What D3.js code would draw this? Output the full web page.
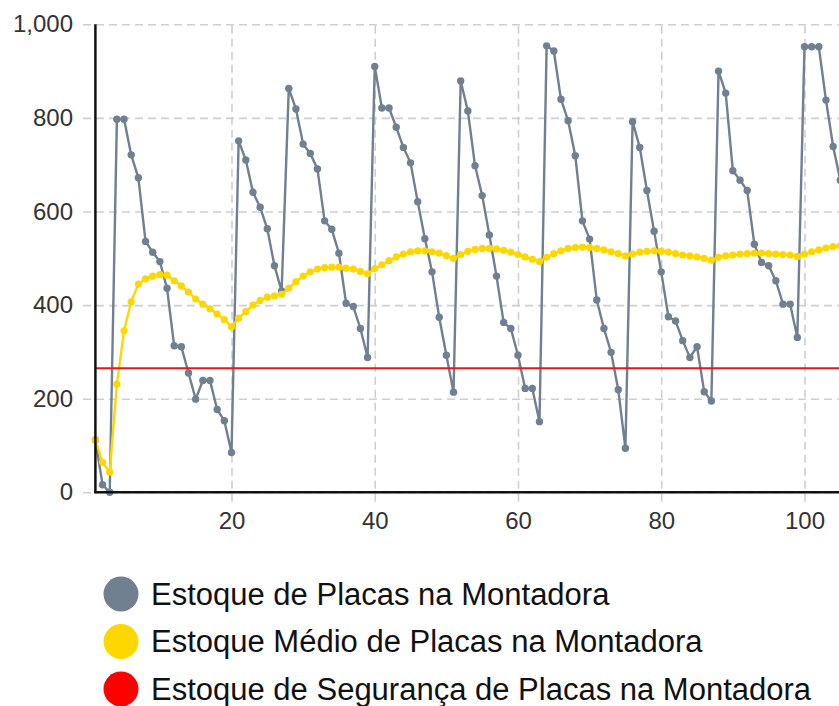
<!DOCTYPE html>
<html>
<head>
<meta charset="utf-8">
<script src="https://cdn.jsdelivr.net/npm/d3@7"></script>
<style>
  html, body { margin: 0; padding: 0; background: #fff; overflow: hidden; }
  svg { display: block; font-family: "Liberation Sans", Arial, sans-serif; }
</style>
</head>
<body>
<svg id="chart" width="839" height="706"></svg>
<script>
// ---- data ----
const periods = d3.range(1, 106);
const estoque = [
  112, 16, 0, 797, 797, 721, 672, 536, 513, 493, 436, 313, 311, 255, 199, 239, 239, 177, 153, 85,
  751, 710, 641, 609, 563, 484, 430, 863, 819, 744, 724, 691, 580, 562, 511, 404, 397, 350, 288, 910,
  821, 821, 780, 737, 704, 621, 542, 471, 374, 293, 214, 879, 815, 698, 634, 550, 462, 363, 350, 293,
  222, 222, 151, 954, 943, 840, 794, 719, 580, 541, 411, 350, 299, 219, 94, 792, 737, 645, 558, 471,
  375, 366, 324, 288, 311, 215, 195, 900, 853, 687, 667, 645, 530, 491, 484, 452, 402, 402, 331, 952,
  952, 952, 838, 739, 667
];
const estoqueMedio = [
  112, 64, 43, 231, 345, 407, 445, 456, 462, 465, 464, 452, 441, 428, 413, 402, 392, 381, 369, 354,
  372, 386, 400, 410, 417, 420, 423, 436, 450, 462, 471, 477, 480, 481, 481, 479, 477, 472, 467, 478,
  486, 495, 503, 509, 514, 516, 516, 514, 511, 506, 500, 508, 515, 519, 521, 521, 520, 517, 513, 508,
  503, 498, 493, 502, 510, 516, 521, 523, 524, 523, 521, 518, 514, 510, 505, 509, 513, 515, 516, 515,
  513, 510, 507, 505, 503, 500, 496, 502, 505, 507, 509, 510, 511, 511, 510, 509, 508, 507, 504, 509,
  514, 518, 522, 525, 527
];
const estoqueSeguranca = 265;
const yTicks = [0, 200, 400, 600, 800, 1000];
const xTicks = [20, 40, 60, 80, 100];
const legendLabels = [
  "Estoque de Placas na Montadora",
  "Estoque Médio de Placas na Montadora",
  "Estoque de Segurança de Placas na Montadora"
];
const colors = ["#708090", "#FFD700", "#FF0000"];

// ---- layout ----
const svg = d3.select("#chart");
const x = d3.scaleLinear().domain([1, 105]).range([95.4, 840.3]);
const y = d3.scaleLinear().domain([0, 1000]).range([492.3, 24.3]);
const rightEdge = 845;

// grid + y labels
const gy = svg.append("g").attr("transform", "translate(83,0)")
  .call(d3.axisLeft(y).tickValues(yTicks).tickFormat(d3.format(","))
    .tickSize(-(rightEdge - 83)).tickPadding(10));
gy.select(".domain").remove();
gy.selectAll(".tick line").attr("stroke", "#cfcfcf").attr("stroke-width", 1.6).attr("stroke-dasharray", "8,5");
gy.selectAll(".tick text").attr("fill", "#333").style("font-size", "24px");

// grid + x labels
const gx = svg.append("g").attr("transform", "translate(0,501.7)")
  .call(d3.axisBottom(x).tickValues(xTicks).tickSize(-(501.7 - 24.3)).tickPadding(10));
gx.select(".domain").remove();
gx.selectAll(".tick line").attr("stroke", "#cfcfcf").attr("stroke-width", 1.6).attr("stroke-dasharray", "8,5");
gx.selectAll(".tick text").attr("fill", "#333").style("font-size", "24px");

// series
const data1 = periods.map((p, i) => [p, estoque[i]]);
const data2 = periods.map((p, i) => [p, estoqueMedio[i]]);
const line = d3.line().x(d => x(d[0])).y(d => y(d[1]));

svg.append("path").datum(data1).attr("d", line)
  .attr("fill", "none").attr("stroke", colors[0]).attr("stroke-width", 2.4);
svg.append("g").selectAll("circle").data(data1).join("circle")
  .attr("cx", d => x(d[0])).attr("cy", d => y(d[1])).attr("r", 3.7).attr("fill", colors[0]);

svg.append("path").datum(data2).attr("d", line)
  .attr("fill", "none").attr("stroke", colors[1]).attr("stroke-width", 2.4);
svg.append("g").selectAll("circle").data(data2).join("circle")
  .attr("cx", d => x(d[0])).attr("cy", d => y(d[1])).attr("r", 3.6).attr("fill", colors[1]);

svg.append("line")
  .attr("x1", x(1)).attr("x2", rightEdge)
  .attr("y1", y(estoqueSeguranca)).attr("y2", y(estoqueSeguranca))
  .attr("stroke", "#e8161b").attr("stroke-width", 2);

// axis lines
svg.append("line").attr("x1", x(1)).attr("x2", x(1)).attr("y1", y(1000)).attr("y2", y(0) + 1)
  .attr("stroke", "#111").attr("stroke-width", 2.5);
svg.append("line").attr("x1", x(1) - 1).attr("x2", rightEdge).attr("y1", y(0)).attr("y2", y(0))
  .attr("stroke", "#111").attr("stroke-width", 2.5);

// legend
const lg = svg.append("g").selectAll("g").data(legendLabels).join("g")
  .attr("transform", (d, i) => `translate(121,${594 + i * 47.5})`);
lg.append("circle").attr("r", 17.5).attr("fill", (d, i) => colors[i]);
lg.append("text").attr("x", 30).attr("dy", "0.35em").attr("fill", "#111")
  .style("font-size", "31px").text(d => d);
</script>
</body>
</html>
